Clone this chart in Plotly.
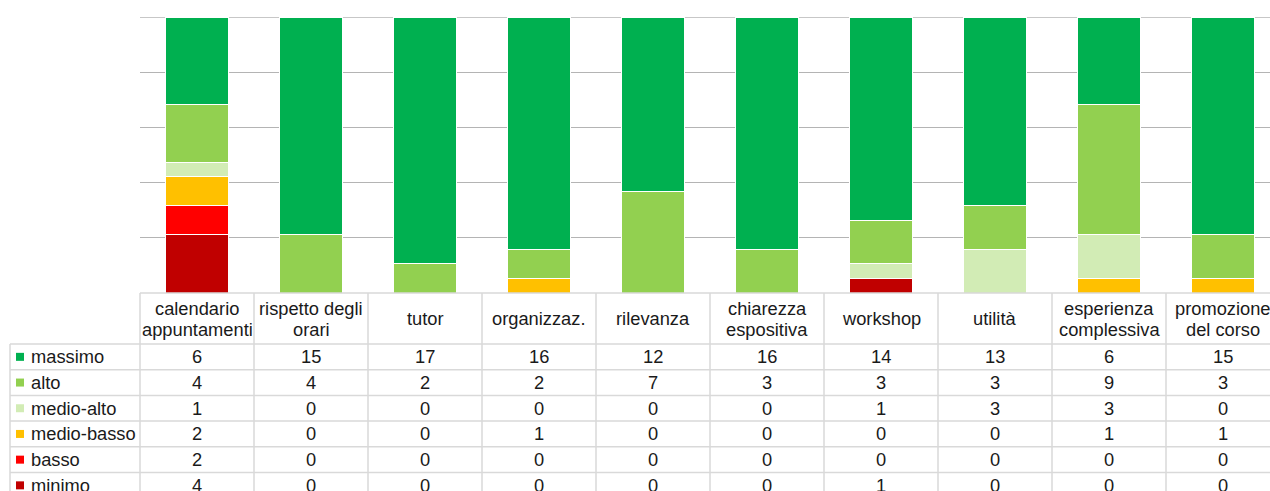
import plotly.graph_objects as go

# Survey items (columns of the data table) and their two-line header labels
categories = ["calendario appuntamenti", "rispetto degli orari", "tutor", "organizzaz.",
              "rilevanza", "chiarezza espositiva", "workshop", "utilità",
              "esperienza complessiva", "promozione del corso"]
header_lines = [["calendario", "appuntamenti"], ["rispetto degli", "orari"], ["tutor"],
                ["organizzaz."], ["rilevanza"], ["chiarezza", "espositiva"], ["workshop"],
                ["utilità"], ["esperienza", "complessiva"], ["promozione", "del corso"]]

# Counts per rating level (table rows, top to bottom)
massimo = [6, 15, 17, 16, 12, 16, 14, 13, 6, 15]
alto = [4, 4, 2, 2, 7, 3, 3, 3, 9, 3]
medio_alto = [1, 0, 0, 0, 0, 0, 1, 3, 3, 0]
medio_basso = [2, 0, 0, 1, 0, 0, 0, 0, 1, 1]
basso = [2, 0, 0, 0, 0, 0, 0, 0, 0, 0]
minimo = [4, 0, 0, 0, 0, 0, 1, 0, 0, 0]

series_names = ["massimo", "alto", "medio-alto", "medio-basso", "basso", "minimo"]
series_values = [massimo, alto, medio_alto, medio_basso, basso, minimo]
series_colors = ["#00B050", "#92D050", "#D2ECB5", "#FFC000", "#FF0000", "#C00000"]

# Page geometry (pixels)
W, H = 1270, 491
LEFT, TOP, BOTTOM_PX = 140, 17, 293          # plot area edges
COL_W = 114                                    # width of one table column
HEADER_BOTTOM = 344
ROW_H = 25.7
TABLE_LEFT = 10
FONT = "Liberation Sans, Arial, sans-serif"
FS = 18.3
TXT = "#1a1a1a"

plot_w = W - LEFT
plot_h = BOTTOM_PX - TOP
x_max = plot_w / COL_W
n = len(categories)
xs = [i + 0.5 for i in range(n)]


def px_x(p):
    return (p - LEFT) / plot_w


def px_y(p):
    return (BOTTOM_PX - p) / plot_h


fig = go.Figure()
# stacked from the bottom: minimo first, massimo on top
for name, vals, col in reversed(list(zip(series_names, series_values, series_colors))):
    fig.add_trace(go.Bar(x=xs, y=vals, name=name, width=0.545,
                         marker=dict(color=col, line=dict(color="white", width=1)),
                         showlegend=False))

shapes = []
annotations = []
grid = "#D9D9D9"
table_right = px_x(LEFT + COL_W * n)

# top gridline at 100 %
shapes.append(dict(type="line", xref="paper", yref="y", x0=0, x1=1, y0=100, y1=100,
                   layer="below", line=dict(color="#B4B4B4", width=1.3)))

# horizontal table rules
shapes.append(dict(type="line", xref="paper", yref="paper", x0=0, x1=table_right,
                   y0=px_y(BOTTOM_PX), y1=px_y(BOTTOM_PX), line=dict(color=grid, width=1.5)))
n_rows = len(series_names)
for r in range(n_rows + 1):
    yy = HEADER_BOTTOM + r * ROW_H
    shapes.append(dict(type="line", xref="paper", yref="paper", x0=px_x(TABLE_LEFT),
                       x1=table_right, y0=px_y(yy), y1=px_y(yy),
                       line=dict(color=grid, width=1.5)))
# vertical table rules
shapes.append(dict(type="line", xref="paper", yref="paper", x0=px_x(TABLE_LEFT),
                   x1=px_x(TABLE_LEFT), y0=px_y(HEADER_BOTTOM), y1=px_y(H + 20),
                   line=dict(color=grid, width=1.5)))
for i in range(n + 1):
    xx = px_x(LEFT + COL_W * i)
    shapes.append(dict(type="line", xref="paper", yref="paper", x0=xx, x1=xx,
                       y0=px_y(BOTTOM_PX), y1=px_y(H + 20), line=dict(color=grid, width=1.5)))

# header labels
header_mid = (BOTTOM_PX + HEADER_BOTTOM) / 2
for i, lines in enumerate(header_lines):
    cx = px_x(LEFT + COL_W * (i + 0.5))
    if len(lines) == 1:
        ys = [header_mid]
    else:
        ys = [header_mid - 10.5, header_mid + 10.5]
    for txt, yy in zip(lines, ys):
        annotations.append(dict(x=cx, y=px_y(yy), xref="paper", yref="paper", text=txt,
                                showarrow=False, xanchor="center", yanchor="middle",
                                font=dict(family=FONT, size=FS, color=TXT)))

# legend keys, row labels and values
for r, (name, vals, col) in enumerate(zip(series_names, series_values, series_colors)):
    cy = HEADER_BOTTOM + (r + 0.5) * ROW_H
    shapes.append(dict(type="rect", xref="paper", yref="paper", x0=px_x(16), x1=px_x(24),
                       y0=px_y(cy - 4), y1=px_y(cy + 4), fillcolor=col,
                       line=dict(width=0)))
    annotations.append(dict(x=px_x(28.5), y=px_y(cy), xref="paper", yref="paper", text=name,
                            showarrow=False, xanchor="left", yanchor="middle",
                            font=dict(family=FONT, size=FS, color=TXT)))
    for i, v in enumerate(vals):
        annotations.append(dict(x=px_x(LEFT + COL_W * (i + 0.5)), y=px_y(cy), xref="paper",
                                yref="paper", text=str(v), showarrow=False,
                                xanchor="center", yanchor="middle",
                                font=dict(family=FONT, size=FS, color=TXT)))

fig.update_layout(
    width=W, height=H,
    margin=dict(l=LEFT, r=0, t=TOP, b=H - BOTTOM_PX, pad=0),
    barmode="stack", barnorm="percent",
    plot_bgcolor="white", paper_bgcolor="white",
    xaxis=dict(range=[0, x_max], showticklabels=False, showgrid=False, zeroline=False,
               showline=False, ticks=""),
    yaxis=dict(range=[0, 100], dtick=20, showticklabels=False, showgrid=True,
               gridcolor="#B4B4B4", gridwidth=1.3, zeroline=False, showline=False, ticks=""),
    shapes=shapes, annotations=annotations,
)

fig.write_html("out.html")
